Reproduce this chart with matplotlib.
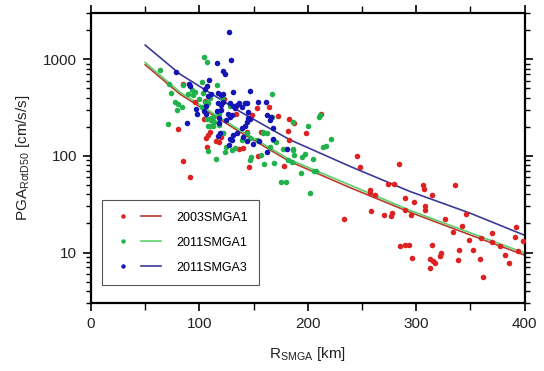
import matplotlib
matplotlib.use("Agg")
import matplotlib.pyplot as plt
from matplotlib.lines import Line2D
from matplotlib.legend_handler import HandlerTuple
from matplotlib.ticker import NullFormatter, LogLocator, MultipleLocator

plt.rcParams['font.family'] = ['Liberation Sans', 'DejaVu Sans']
plt.rcParams['mathtext.fontset'] = 'custom'
plt.rcParams['mathtext.rm'] = 'Liberation Sans'
plt.rcParams['mathtext.it'] = 'Liberation Sans'

# observed PGA (R_SMGA [km], PGA [cm/s/s])
red_r = [84.5, 96, 80.5, 105, 122.6, 85, 91, 104, 109.7, 108, 105.7, 107, 115, 118, 120, 122,
         137, 140, 145.6, 134, 149, 153.6, 164, 172.6, 182.5, 182, 178, 187, 182.8, 198, 212,
         245, 248.5, 284, 274, 280, 306, 336, 257, 257, 261.8, 233.5, 258.7, 270, 276.5, 278,
         290, 290, 295.5, 298, 307, 308, 308, 315, 327, 334, 346, 342, 348.7, 360, 370, 370,
         377, 391.7, 390.8, 398.4, 393.8, 381.6, 385.5, 362, 359, 352, 339.5, 339, 323, 321.7,
         313, 315.5, 317, 313, 315, 296, 284.8, 290, 293, 144, 157, 154.5]
red_pga = [553, 360, 192, 370, 388, 89, 61, 239, 177, 164, 152, 125, 142, 138, 158, 171,
           117, 120, 76, 275, 265, 313, 320, 258, 240, 182, 78, 220, 146, 171, 270,
           100, 77, 83, 51.5, 51.5, 50, 49.5, 44, 41.5, 39, 22, 27, 24.5, 23.8, 25.8,
           37, 27.4, 24.5, 33, 46, 30.5, 27.4, 39, 22, 16.2, 25, 19, 13.6, 14, 15.8, 12.7,
           11.7, 18.4, 14.6, 13.2, 10.3, 9.5, 7.7, 5.6, 8.6, 10.6, 10.7, 8.3, 10, 9.2,
           8.5, 8.1, 7.7, 6.9, 11.9, 8.7, 11.7, 12.1, 12.1, 178, 176, 100]

green_r = [63.6, 71.9, 73.7, 84.5, 77.4, 79.9, 79, 84, 89.7, 95.9, 102, 104.4, 106.6, 99.8, 105,
           108, 109.7, 102, 110.6, 107.5, 112.7, 118, 71.3, 109.7, 106.6, 113.6, 122, 108, 115,
           103, 115.8, 121, 128, 111, 113, 118, 143.5, 146.5, 139, 125, 159, 168, 171, 165, 157,
           148, 146.5, 160, 168.7, 182, 186.5, 167.4, 167.4, 159, 162.5, 175.7, 179.7, 177,
           186.5, 186.5, 187.4, 195, 197, 200, 210, 211, 193.5, 205.5, 208, 205, 214, 216.6,
           221.8, 201.8, 185, 92.8, 94.3, 132.7, 123.5, 129.7, 152.7, 112.7]
green_pga = [780, 555, 451, 541, 364, 344, 298, 318, 434, 461, 578, 1065, 945, 385, 364,
             350, 400, 318, 235, 204, 204, 270, 214, 205, 239, 226, 171, 113, 92,
             444, 541, 395, 328, 245, 230, 209, 174, 155, 146, 123, 178, 146, 141, 123, 102,
             98, 90, 83, 84, 90, 118, 440, 254, 171, 171, 54, 54, 117,
             226, 115, 102, 98, 105, 204, 254, 265, 66, 70, 70, 92, 125, 127,
             149, 41, 87, 481, 427, 120, 111, 115, 146, 254]

blue_r = [126.9, 129, 116, 122, 123.5, 78, 109, 90, 91.5, 105, 106.6, 117, 119.5, 122, 130.6,
          146.5, 96.5, 98, 104, 106, 105.7, 117.4, 119.8, 122, 115.8, 118, 128, 131, 132.4,
          135, 137, 139, 142, 143.5, 145, 154, 161, 162, 165, 166.5, 167.5, 167.5, 162.5, 181,
          143.5, 146.5, 125, 128, 118, 131, 134.3, 140, 155, 88.5, 130, 145, 139, 142, 117,
          119, 144, 128, 130.5, 127, 149.6, 120.4, 126, 111, 108]
blue_pga = [1905, 984, 915, 750, 700, 735, 610, 551, 530, 490, 530, 444, 425, 440, 455,
            475, 303, 270, 295, 272, 330, 350, 336, 364, 293, 245, 355, 328, 311,
            338, 352, 323, 350, 355, 287, 364, 358, 265, 235, 254, 193, 149, 111, 118,
            226, 239, 235, 254, 217, 164, 171, 158, 142, 217, 267, 245, 194, 204, 161,
            171, 142, 150, 147, 129, 132, 298, 275, 441, 417]

# regression curves
fit_r = [50, 82, 137, 183, 239, 294, 350, 400]
fit_red = [880, 437, 178, 88, 47, 26.2, 15.2, 9.4]
fit_green = [930, 458, 186, 92, 50, 27.4, 16, 9.9]
fit_blue = [1406, 705, 290, 148, 78, 43, 25.5, 15.1]

labels = ['2003SMGA1', '2011SMGA1', '2011SMGA3']
dot_colors = ['#dd2222', '#22b24c', '#1515b5']
line_colors = ['#b83a30', '#5ccf6a', '#3a3a98']

fig = plt.figure(figsize=(5.44, 3.71), dpi=100)
ax = fig.add_axes([0.1673, 0.1833, 0.7969, 0.7808])

fits = [fit_red, fit_green, fit_blue]
obs = [(red_r, red_pga), (green_r, green_pga), (blue_r, blue_pga)]
handles = []
for (r, p), fit, dc, lc in zip(obs, fits, dot_colors, line_colors):
    ax.plot(fit_r, fit, color=lc, lw=1.2, zorder=2)
for (r, p), dc in zip(obs, dot_colors):
    ax.plot(r, p, 'o', color=dc, ms=4, mew=0, zorder=3)
for dc, lc in zip(dot_colors, line_colors):
    d = Line2D([], [], ls='none', marker='o', color=dc, ms=3.2, mew=0)
    l = Line2D([], [], color=lc, lw=1.2)
    handles.append((d, l))

ax.set_yscale('log')
ax.set_xlim(0, 400)
ax.set_ylim(3, 3000)
ax.xaxis.set_major_locator(MultipleLocator(100))
ax.xaxis.set_minor_locator(MultipleLocator(50))
ax.set_yticks([10, 100, 1000])
ax.set_yticklabels(['10', '100', '1000'])
ax.yaxis.set_minor_locator(LogLocator(base=10, subs=range(2, 10)))
ax.yaxis.set_minor_formatter(NullFormatter())

ax.tick_params(which='both', direction='out', top=True, right=True, labelsize=11,
               color='black', labelcolor='#222222')
ax.tick_params(which='major', length=6, width=1.2, pad=4)
ax.tick_params(which='minor', length=3.5, width=1.0)
ax.tick_params(axis='x', which='minor', length=5, width=1.0)
for s in ax.spines.values():
    s.set_linewidth(1.6)

ax.set_xlabel(r'R$_{\mathrm{SMGA}}$ [km]', fontsize=11, color='#222222', labelpad=10)
ax.set_ylabel(r'PGA$_{\mathrm{RotD50}}$ [cm/s/s]', fontsize=11, color='#222222', labelpad=8)

leg = ax.legend(handles, labels, handler_map={tuple: HandlerTuple(ndivide=None, pad=0.64)},
                loc='lower left', bbox_to_anchor=(0.0247, 0.062), borderaxespad=0,
                fontsize=9, handlelength=3.84, handletextpad=1.2, borderpad=0.9,
                labelspacing=1.05, fancybox=False, framealpha=1, edgecolor='#555555')
leg.get_frame().set_linewidth(0.8)

fig.savefig('out.png', dpi=100)
